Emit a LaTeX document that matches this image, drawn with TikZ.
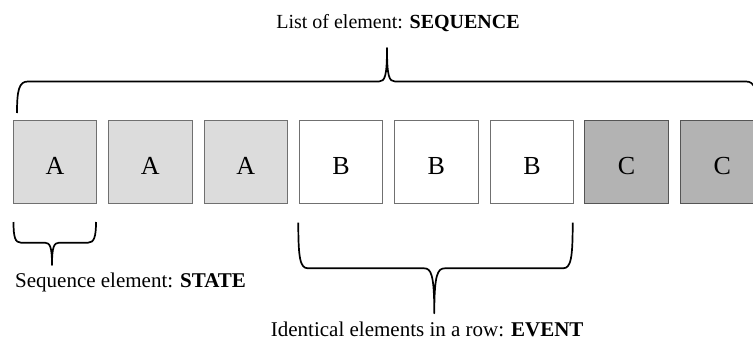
\documentclass[tikz,border=0pt]{standalone}
\usepackage{fontspec}
\setmainfont{Liberation Serif}
\begin{document}
\begin{tikzpicture}[x=1pt,y=-1pt,
  cell/.style={draw=cellborder, line width=0.9pt, inner sep=0pt, minimum width=83.5pt, minimum height=83pt,
    anchor=north west, font=\fontsize{26}{30}\selectfont, text height=25.6pt, text depth=0pt},
  cellA/.style={cell, fill=fillA},
  cellB/.style={cell, fill=white},
  cellC/.style={cell, fill=fillC, draw=cellborderC},
  bracepath/.style={draw=black, line width=1.7pt, line join=round},
  lab/.style={inner sep=0pt, font=\fontsize{21}{25}\selectfont}]
\definecolor{fillA}{HTML}{DCDCDC}
\definecolor{fillC}{HTML}{B3B3B3}
\definecolor{cellborder}{HTML}{707070}
\definecolor{cellborderC}{HTML}{555555}
\useasboundingbox (0,0) rectangle (753,340);
\clip (0,0) rectangle (753,340);

% cells
\node[cellA] (b1) at (12.7,120) {A};
\node[cellA] (b2) at (108,120) {A};
\node[cellA] (b3) at (203.6,120) {A};
\node[cellB] (b4) at (298.9,120) {B};
\node[cellB] (b5) at (394.2,120) {B};
\node[cellB] (b6) at (489.8,120) {B};
\node[cellC] (b7) at (584.3,120) {C};
\node[cellC] (b8) at (680,120) {C};

% labels
\node[lab, anchor=base, font=\fontsize{20}{24}\selectfont] (lseq) at (398,28.3) {List of element: \textbf{SEQUENCE}};
\node[lab, anchor=base west] (lstate) at (15,287.3) {Sequence element: \textbf{STATE}};
\node[lab, anchor=base west] (levent) at (270.7,336.5) {Identical elements in a row: \textbf{EVENT}};

% top brace (sequence)
\draw[bracepath] (17,113) .. controls (17,90) and (19,81.5) .. (28,81.5)
  -- (379,81.5) .. controls (385,81.5) and (387,76) .. (387,48)
  .. controls (387,76) and (389,81.5) .. (395,81.5)
  -- (746,81.5) .. controls (755,81.5) and (757,90) .. (757,113);

% bottom brace (state)
\draw[bracepath] (13.5,222) .. controls (13.5,237) and (15,242.7) .. (21,242.7)
  -- (45,242.7) .. controls (50,242.7) and (52,247) .. (52,265)
  .. controls (52,247) and (54,242.7) .. (59,242.7)
  -- (88,242.7) .. controls (94,242.7) and (96,237) .. (96,222);

% bottom brace (event)
\draw[bracepath] (298.3,222.7) .. controls (298.3,258) and (300,268.3) .. (308,268.3)
  -- (424,268.3) .. controls (431,268.3) and (434.3,274) .. (434.3,313.3)
  .. controls (434.3,274) and (437.6,268.3) .. (445,268.3)
  -- (563,268.3) .. controls (571,268.3) and (572.7,258) .. (572.7,222.7);
\end{tikzpicture}
\end{document}
